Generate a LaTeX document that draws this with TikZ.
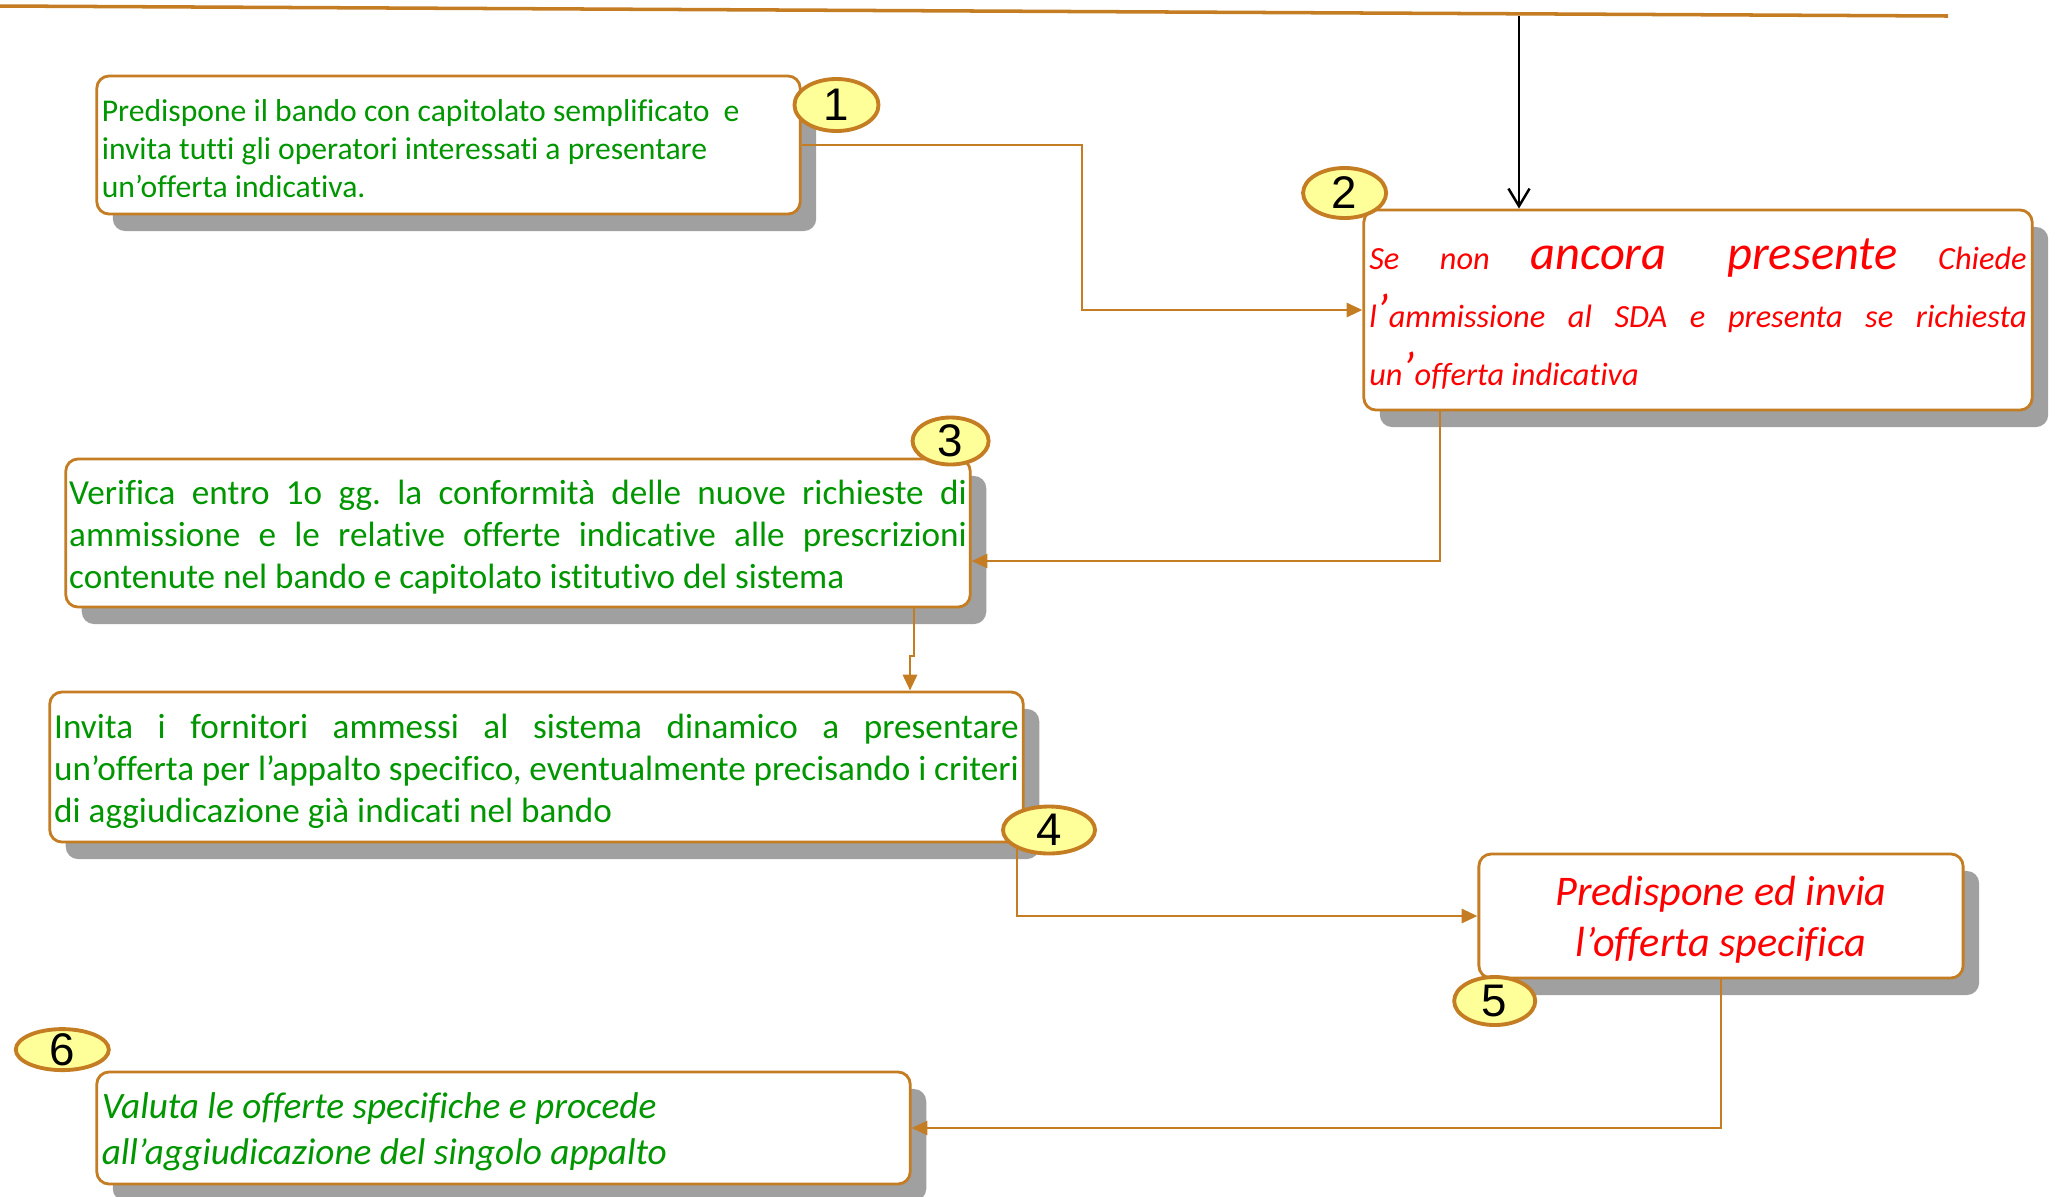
\documentclass[tikz,border=0pt]{standalone}
\usepackage{fontspec}
\setmainfont{Carlito}[Ligatures={NoCommon}]
\newfontfamily\numfont{Liberation Sans}
\usetikzlibrary{arrows.meta,shapes.geometric,shadows}
\definecolor{edge}{RGB}{196,125,35}
\definecolor{shade}{RGB}{160,160,160}
\definecolor{badge}{RGB}{255,255,153}
\definecolor{txtgreen}{RGB}{0,150,0}
\definecolor{txtred}{RGB}{255,0,0}
\frenchspacing
\newcommand{\jline}[1]{\makebox[\linewidth][s]{#1}}
\newcommand{\bigq}[1]{{\fontsize{13.8}{16.5}\selectfont #1}}
\newcommand{\lowr}[1]{\raisebox{-1.1pt}[\height][\depth]{#1}}
\begin{document}
\begin{tikzpicture}[x=0.01cm,y=-0.01cm,
  stepbox/.style={draw=edge, line width=0.8pt, fill=white, rounded corners=3.5pt, inner sep=0pt,
    drop shadow={shadow xshift=0.16cm, shadow yshift=-0.17cm, fill=shade, opacity=1}},
  badgeshape/.style={ellipse, draw=edge, line width=1.1pt, fill=badge, inner sep=-1pt,
    font=\numfont\fontsize{13}{13}\selectfont, text=black},
  conn/.style={draw=edge, line width=0.8pt, -{Triangle[length=4.5pt,width=4pt]}},
  plainconn/.style={draw=edge, line width=0.8pt}]
\useasboundingbox (0,0) rectangle (2056,1196);

% top line
\coordinate (tl) at (0,6);
\coordinate (tr) at (1948,16);
\draw[edge, line width=1pt] (tl) -- (tr);

% boxes
\node[stepbox, minimum width=7.03cm, minimum height=1.38cm, text=txtgreen] (b1) at (448.5,145)
  {\lowr{\parbox{6.93cm}{\fontsize{9}{10.8}\selectfont Predispone il bando con capitolato semplificato \ e\\ invita tutti gli operatori interessati a presentare\\ un’offerta indicativa.}}};

\node[stepbox, minimum width=6.68cm, minimum height=2.00cm, text=txtred] (b2) at (1698,310)
  {\lowr{\parbox{6.57cm}{\fontsize{9.2}{16.5}\selectfont\itshape
   \jline{Se non \bigq{ancora presente} Chiede}\\
   \jline{l\bigq{’}ammissione al SDA e presenta se richiesta}\\
   un\bigq{’}offerta indicativa}}};

\node[stepbox, minimum width=9.04cm, minimum height=1.48cm, text=txtgreen] (b3) at (518,533)
  {\lowr{\parbox{8.97cm}{\fontsize{10}{11.95}\selectfont
   \jline{Verifica entro 1o gg. la conformità delle nuove richieste di}\\
   \jline{ammissione e le relative offerte indicative alle prescrizioni}\\
   contenute nel bando e capitolato istitutivo del sistema}}};

\node[stepbox, minimum width=9.73cm, minimum height=1.50cm, text=txtgreen] (b4) at (536.5,767)
  {\lowr{\parbox{9.64cm}{\fontsize{10}{11.95}\selectfont
   \jline{Invita i fornitori ammessi al sistema dinamico a presentare}\\
   \jline{un’offerta per l’appalto specifico, eventualmente precisando i criteri}\\
   di aggiudicazione già indicati nel bando}}};

\node[stepbox, minimum width=4.84cm, minimum height=1.24cm, text=txtred] (b5) at (1721,916)
  {\lowr{\parbox{4.7cm}{\centering\fontsize{12}{14.5}\selectfont\itshape Predispone ed invia\\ l’offerta specifica}}};

\node[stepbox, minimum width=8.13cm, minimum height=1.12cm, text=txtgreen] (b6) at (503.5,1128)
  {\lowr{\parbox{8.03cm}{\fontsize{10.6}{13.1}\selectfont\itshape Valuta le offerte specifiche e procede\\ all’aggiudicazione del singolo appalto}}};

% connectors
\coordinate (k0) at (1519,15.6);
\draw[black, line width=0.7pt, -{Straight Barb[length=5pt,width=6pt]}] (k0) -- (k0 |- b2.north);

\coordinate (k1) at (1082,0);
\draw[conn] (b1.east) -- (b1.east -| k1) |- (b2.west);

\coordinate (k2) at (1440,561);
\draw[conn] (b2.south -| k2) -- (k2) -- (k2 -| b3.east);

\coordinate (k3a) at (914,656);
\coordinate (k3b) at (910,656);
\draw[conn] (b3.south -| k3a) -- (k3a) -- (k3b) -- (k3b |- b4.north);

\coordinate (k4) at (1017,0);
\draw[conn] (b4.south -| k4) |- (b5.west);

\draw[conn] (b5.south) |- (b6.east);

% badges
\node[badgeshape, minimum width=0.84cm, minimum height=0.52cm] (c1) at (836.5,105) {1};
\node[badgeshape, minimum width=0.83cm, minimum height=0.50cm] (c2) at (1344.6,193) {2};
\node[badgeshape, minimum width=0.76cm, minimum height=0.47cm] (c3) at (950.6,441) {3};
\node[badgeshape, minimum width=0.92cm, minimum height=0.47cm] (c4) at (1049,830) {4};
\node[badgeshape, minimum width=0.81cm, minimum height=0.48cm] (c5) at (1494.7,1001) {5};
\node[badgeshape, minimum width=0.93cm, minimum height=0.41cm] (c6) at (62.3,1049.6) {6};
\end{tikzpicture}
\end{document}
